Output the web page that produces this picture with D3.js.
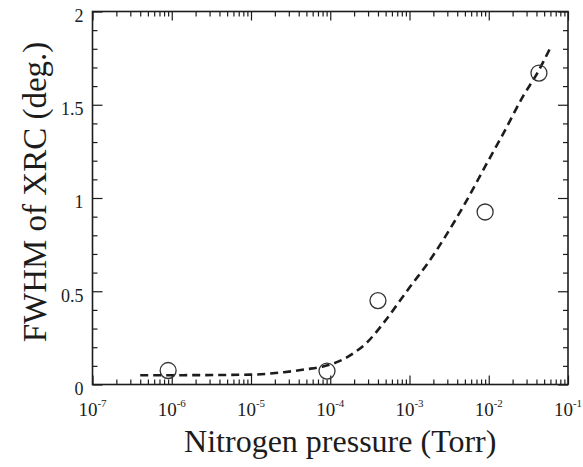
<!DOCTYPE html>
<html>
<head>
<meta charset="utf-8">
<script src="https://cdn.jsdelivr.net/npm/d3@7"></script>
<style>
  body { margin: 0; background: #fff; }
  svg { display: block; }
  text { font-family: "Liberation Serif", "DejaVu Serif", serif; fill: #1c1c1c; }
</style>
</head>
<body>
<div id="chart"></div>
<script>
// measured points (Torr, deg.)
const pressure = [9.0e-7, 9.1e-5, 4.0e-4, 9.0e-3, 4.3e-2];
const fwhm = [0.075, 0.072, 0.45, 0.925, 1.67];

// dashed guide curve
const curveP = [4.0e-7, 1.4e-6, 1.0e-5, 2.6e-5, 5.0e-5, 8.1e-5, 1.3e-4, 2.0e-4, 2.9e-4, 4.7e-4,
                7.6e-4, 1.0e-3, 1.7e-3, 2.8e-3, 5.0e-3, 9.3e-3, 1.5e-2, 2.75e-2, 4.1e-2, 5.9e-2];
const curveY = [0.05, 0.05, 0.053, 0.066, 0.082, 0.097, 0.125, 0.17, 0.225, 0.33,
                0.45, 0.52, 0.65, 0.79, 0.97, 1.18, 1.34, 1.55, 1.67, 1.80];

const xExps = [-7, -6, -5, -4, -3, -2, -1];
const yTicks = [0, 0.5, 1, 1.5, 2];

const width = 583, height = 467;
const margin = {top: 11.5, right: 15, bottom: 82.5, left: 92.5};
const ink = "#1c1c1c";

const svg = d3.select("#chart").append("svg")
    .attr("width", width)
    .attr("height", height);

const x = d3.scaleLog()
    .domain([1e-7, 1e-1])
    .range([margin.left, width - margin.right]);

const y = d3.scaleLinear()
    .domain([0, 2])
    .range([height - margin.bottom, margin.top]);

const majorX = xExps.map(e => Math.pow(10, e));
let minorX = [];
xExps.slice(0, -1).forEach(e => {
    for (let k = 2; k <= 9; k++) minorX.push(k * Math.pow(10, e));
});
const minorY = d3.range(0, 21).map(i => i / 10).filter(v => !yTicks.some(t => Math.abs(t - v) < 1e-9));

const x0 = margin.left, x1 = width - margin.right;
const y0 = height - margin.bottom, y1 = margin.top;

function tickStyle(g) {
    g.select(".domain").remove();
    g.selectAll(".tick text").remove();
    g.selectAll(".tick line").attr("stroke", ink).attr("stroke-width", 1.2);
}

// bottom + top ticks (inward)
[[d3.axisBottom, y0], [d3.axisTop, y1]].forEach(([ax, pos]) => {
    svg.append("g")
        .attr("transform", `translate(0,${pos})`)
        .call(ax(x).tickValues(majorX).tickSize(-9).tickFormat(""))
        .call(tickStyle);
    svg.append("g")
        .attr("transform", `translate(0,${pos})`)
        .call(ax(x).tickValues(minorX).tickSize(-5).tickFormat(""))
        .call(tickStyle);
});

// left + right ticks (inward)
[[d3.axisLeft, x0], [d3.axisRight, x1]].forEach(([ax, pos]) => {
    svg.append("g")
        .attr("transform", `translate(${pos},0)`)
        .call(ax(y).tickValues(yTicks).tickSize(-10).tickFormat(""))
        .call(tickStyle);
    svg.append("g")
        .attr("transform", `translate(${pos},0)`)
        .call(ax(y).tickValues(minorY).tickSize(-5).tickFormat(""))
        .call(tickStyle);
});

// frame
svg.append("rect")
    .attr("x", x0).attr("y", y1)
    .attr("width", x1 - x0).attr("height", y0 - y1)
    .attr("fill", "none")
    .attr("stroke", ink)
    .attr("stroke-width", 1.6);

// y tick labels
svg.append("g").selectAll("text")
    .data(yTicks)
    .join("text")
    .attr("x", x0 - 9)
    .attr("y", d => y(d) + 4)
    .attr("dy", "0.35em")
    .attr("text-anchor", "end")
    .style("font-size", "18px")
    .text(d => d);

// x tick labels: 10^n
const xl = svg.append("g").selectAll("text")
    .data(xExps)
    .join("text")
    .attr("x", d => x(Math.pow(10, d)))
    .attr("y", y0 + 31)
    .attr("text-anchor", "middle")
    .style("font-size", "19px");
xl.append("tspan").text("10");
xl.append("tspan")
    .attr("dy", -9)
    .style("font-size", "11px")
    .text(d => d);

// dashed curve
const line = d3.line()
    .x(d => x(d[0]))
    .y(d => y(d[1]))
    .curve(d3.curveMonotoneX);

svg.append("path")
    .datum(curveP.map((p, i) => [p, curveY[i]]))
    .attr("d", line)
    .attr("fill", "none")
    .attr("stroke", ink)
    .attr("stroke-width", 2.6)
    .attr("stroke-dasharray", "8,5");

// measured points
svg.append("g").selectAll("circle")
    .data(pressure.map((p, i) => [p, fwhm[i]]))
    .join("circle")
    .attr("cx", d => x(d[0]))
    .attr("cy", d => y(d[1]))
    .attr("r", 8)
    .attr("fill", "none")
    .attr("stroke", "#333")
    .attr("stroke-width", 1.3);

// axis titles
svg.append("text")
    .attr("x", (x0 + x1) / 2 + 10)
    .attr("y", 452)
    .attr("text-anchor", "middle")
    .style("font-size", "32px")
    .text("Nitrogen pressure (Torr)");

svg.append("text")
    .attr("transform", `translate(46,${(y0 + y1) / 2 - 6}) rotate(-90)`)
    .attr("text-anchor", "middle")
    .style("font-size", "33px")
    .text("FWHM of XRC (deg.)");
</script>
</body>
</html>
